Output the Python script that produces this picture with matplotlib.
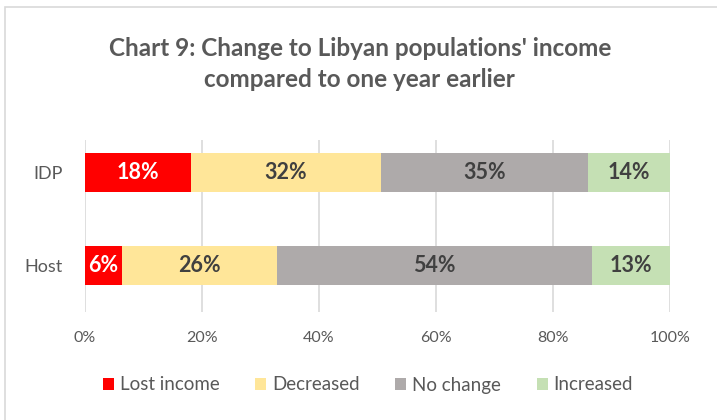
import matplotlib
matplotlib.use("Agg")
import matplotlib.pyplot as plt
from matplotlib.patches import Rectangle

groups = ["Host", "IDP"]
series = ["Lost income", "Decreased", "No change", "Increased"]
lost_income = [6.3, 18.1]
decreased = [26.5, 32.5]
no_change = [53.8, 35.4]
increased = [13.4, 14.0]
colors = ["#FF0000", "#FFE699", "#AEAAAA", "#C5E0B4"]
label_colors = ["white", "#404040", "#404040", "#404040"]
xticks = [0, 20, 40, 60, 80, 100]

plt.rcParams["font.family"] = ["Lato", "DejaVu Sans"]

fig = plt.figure(figsize=(7.17, 4.20), dpi=100)
fig.patches.append(Rectangle((5 / 717, -0.01), 1.0, 1 - 7 / 420 + 0.01,
                             transform=fig.transFigure, fill=False,
                             edgecolor="#D9D9D9", linewidth=1.2))

ax = fig.add_axes([85 / 717, 1 - 312 / 420, 585 / 717, 172 / 420])

values = [lost_income, decreased, no_change, increased]
left = [0.0, 0.0]
ypos = [0, 1]
for name, vals, col, lc in zip(series, values, colors, label_colors):
    bars = ax.barh(ypos, vals, left=left, height=0.41, color=col,
                   label=name, zorder=3)
    for b, v in zip(bars, vals):
        ax.text(b.get_x() + b.get_width() / 2, b.get_y() + b.get_height() / 2,
                f"{v:.0f}%", ha="center", va="center", color=lc,
                fontsize=15.5, fontweight="bold", zorder=4)
    left = [l + v for l, v in zip(left, vals)]

ax.set_xlim(0, 100)
ax.set_ylim(-0.5, 1.35)
ax.set_xticks(xticks)
ax.set_xticklabels([f"{t}%" for t in xticks])
ax.set_yticks(ypos)
ax.set_yticklabels(groups)
ax.tick_params(axis="both", length=0, labelcolor="#595959")
ax.tick_params(axis="x", pad=14, labelsize=11.5)
ax.tick_params(axis="y", pad=16, labelsize=13)
ax.grid(axis="x", color="#D9D9D9", linewidth=1.2, zorder=0)
for s in ax.spines.values():
    s.set_visible(False)

fig.text(0.502, 1 - 64 / 420, "Chart 9: Change to Libyan populations' income\ncompared to one year earlier",
         ha="center", va="center", fontsize=17.5, fontweight="bold",
         color="#595959", linespacing=1.4)

handles, labels = ax.get_legend_handles_labels()
fig.legend(handles, labels, loc="center", bbox_to_anchor=(0.513, 1 - 385 / 420),
           ncol=4, frameon=False, fontsize=13.5, labelcolor="#595959",
           handlelength=0.6, handleheight=0.6, handletextpad=0.3,
           columnspacing=1.9)

fig.savefig("out.png", dpi=100)
